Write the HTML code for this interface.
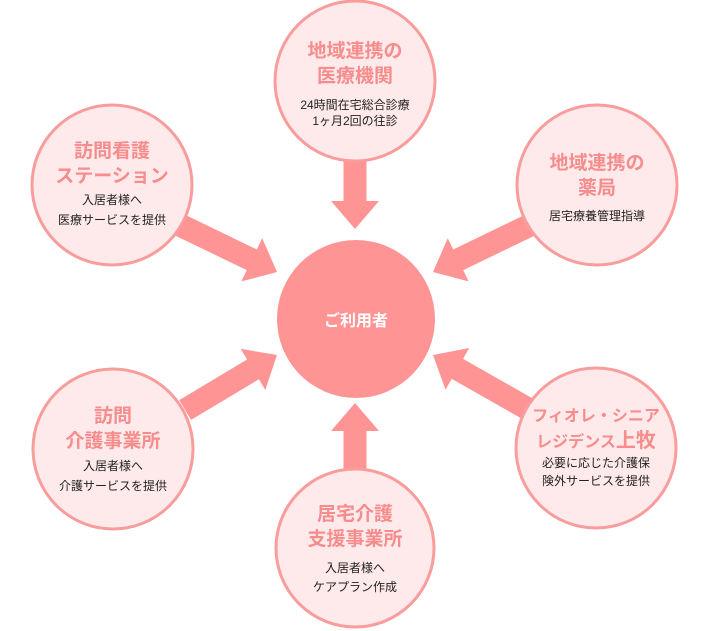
<!DOCTYPE html>
<html><head><meta charset="utf-8"><style>
html,body{margin:0;padding:0;background:#fff;}
svg{display:block;}
text{font-family:"Liberation Sans","Noto Sans CJK JP",sans-serif;text-anchor:middle;}
.t{font-size:19px;font-weight:bold;fill:#f68c8c;}
.b{font-size:12px;fill:#222;}
</style></head><body>
<svg width="710" height="631" viewBox="0 0 710 631" xmlns="http://www.w3.org/2000/svg">
<g fill="#ff9494">
<polygon transform="translate(277,272) rotate(25.8)" points="-108,-11.5 -28,-11.5 -28,-24 0,0 -28,24 -28,11.5 -108,11.5"/>
<polygon transform="translate(433,272) rotate(154.2)" points="-108,-11.5 -28,-11.5 -28,-24 0,0 -28,24 -28,11.5 -108,11.5"/>
<polygon transform="translate(277,355) rotate(-30.9)" points="-107,-11.5 -28,-11.5 -28,-24 0,0 -28,24 -28,11.5 -107,11.5"/>
<polygon transform="translate(433,355) rotate(209.6)" points="-112,-11.5 -28,-11.5 -28,-24 0,0 -28,24 -28,11.5 -112,11.5"/>
<polygon transform="translate(355,229) rotate(90)" points="-74,-11.5 -28,-11.5 -28,-24 0,0 -28,24 -28,11.5 -74,11.5"/>
<polygon transform="translate(355,403) rotate(-90)" points="-67,-11.5 -28,-11.5 -28,-24 0,0 -28,24 -28,11.5 -67,11.5"/>
<circle cx="356" cy="319" r="79"/>
</g>
<g fill="#ffeaeb" stroke="#f99c9c" stroke-width="3">
<circle cx="355" cy="81" r="80"/>
<circle cx="112" cy="185" r="80"/>
<circle cx="597" cy="185" r="80"/>
<circle cx="113" cy="449" r="80"/>
<circle cx="596" cy="448" r="80"/>
<circle cx="355" cy="548" r="79"/>
</g>
<text x="356" y="326" style="font-size:16px;font-weight:bold;fill:#fff">ご利用者</text>

<text class="t" x="355" y="57">地域連携の</text>
<text class="t" x="355" y="82">医療機関</text>
<text class="b" x="355" y="109">24時間在宅総合診療</text>
<text class="b" x="355" y="125">1ヶ月2回の往診</text>

<text class="t" x="112" y="157">訪問看護</text>
<text class="t" x="112" y="182">ステーション</text>
<text class="b" x="112" y="204">入居者様へ</text>
<text class="b" x="112" y="224">医療サービスを提供</text>

<text class="t" x="597" y="169">地域連携の</text>
<text class="t" x="597" y="194">薬局</text>
<text class="b" x="597" y="220">居宅療養管理指導</text>

<text class="t" x="113" y="422">訪問</text>
<text class="t" x="113" y="447">介護事業所</text>
<text class="b" x="113" y="470">入居者様へ</text>
<text class="b" x="113" y="490">介護サービスを提供</text>

<text class="t" x="596" y="421" style="font-size:16px">フィオレ・シニア</text>
<text class="t" x="596" y="447" style="font-size:16px">レジデンス<tspan style="font-size:20px">上牧</tspan></text>
<text class="b" x="596" y="467">必要に応じた介護保</text>
<text class="b" x="596" y="485">険外サービスを提供</text>

<text class="t" x="355" y="520">居宅介護</text>
<text class="t" x="355" y="545">支援事業所</text>
<text class="b" x="355" y="572">入居者様へ</text>
<text class="b" x="355" y="591">ケアプラン作成</text>
</svg>
</body></html>
